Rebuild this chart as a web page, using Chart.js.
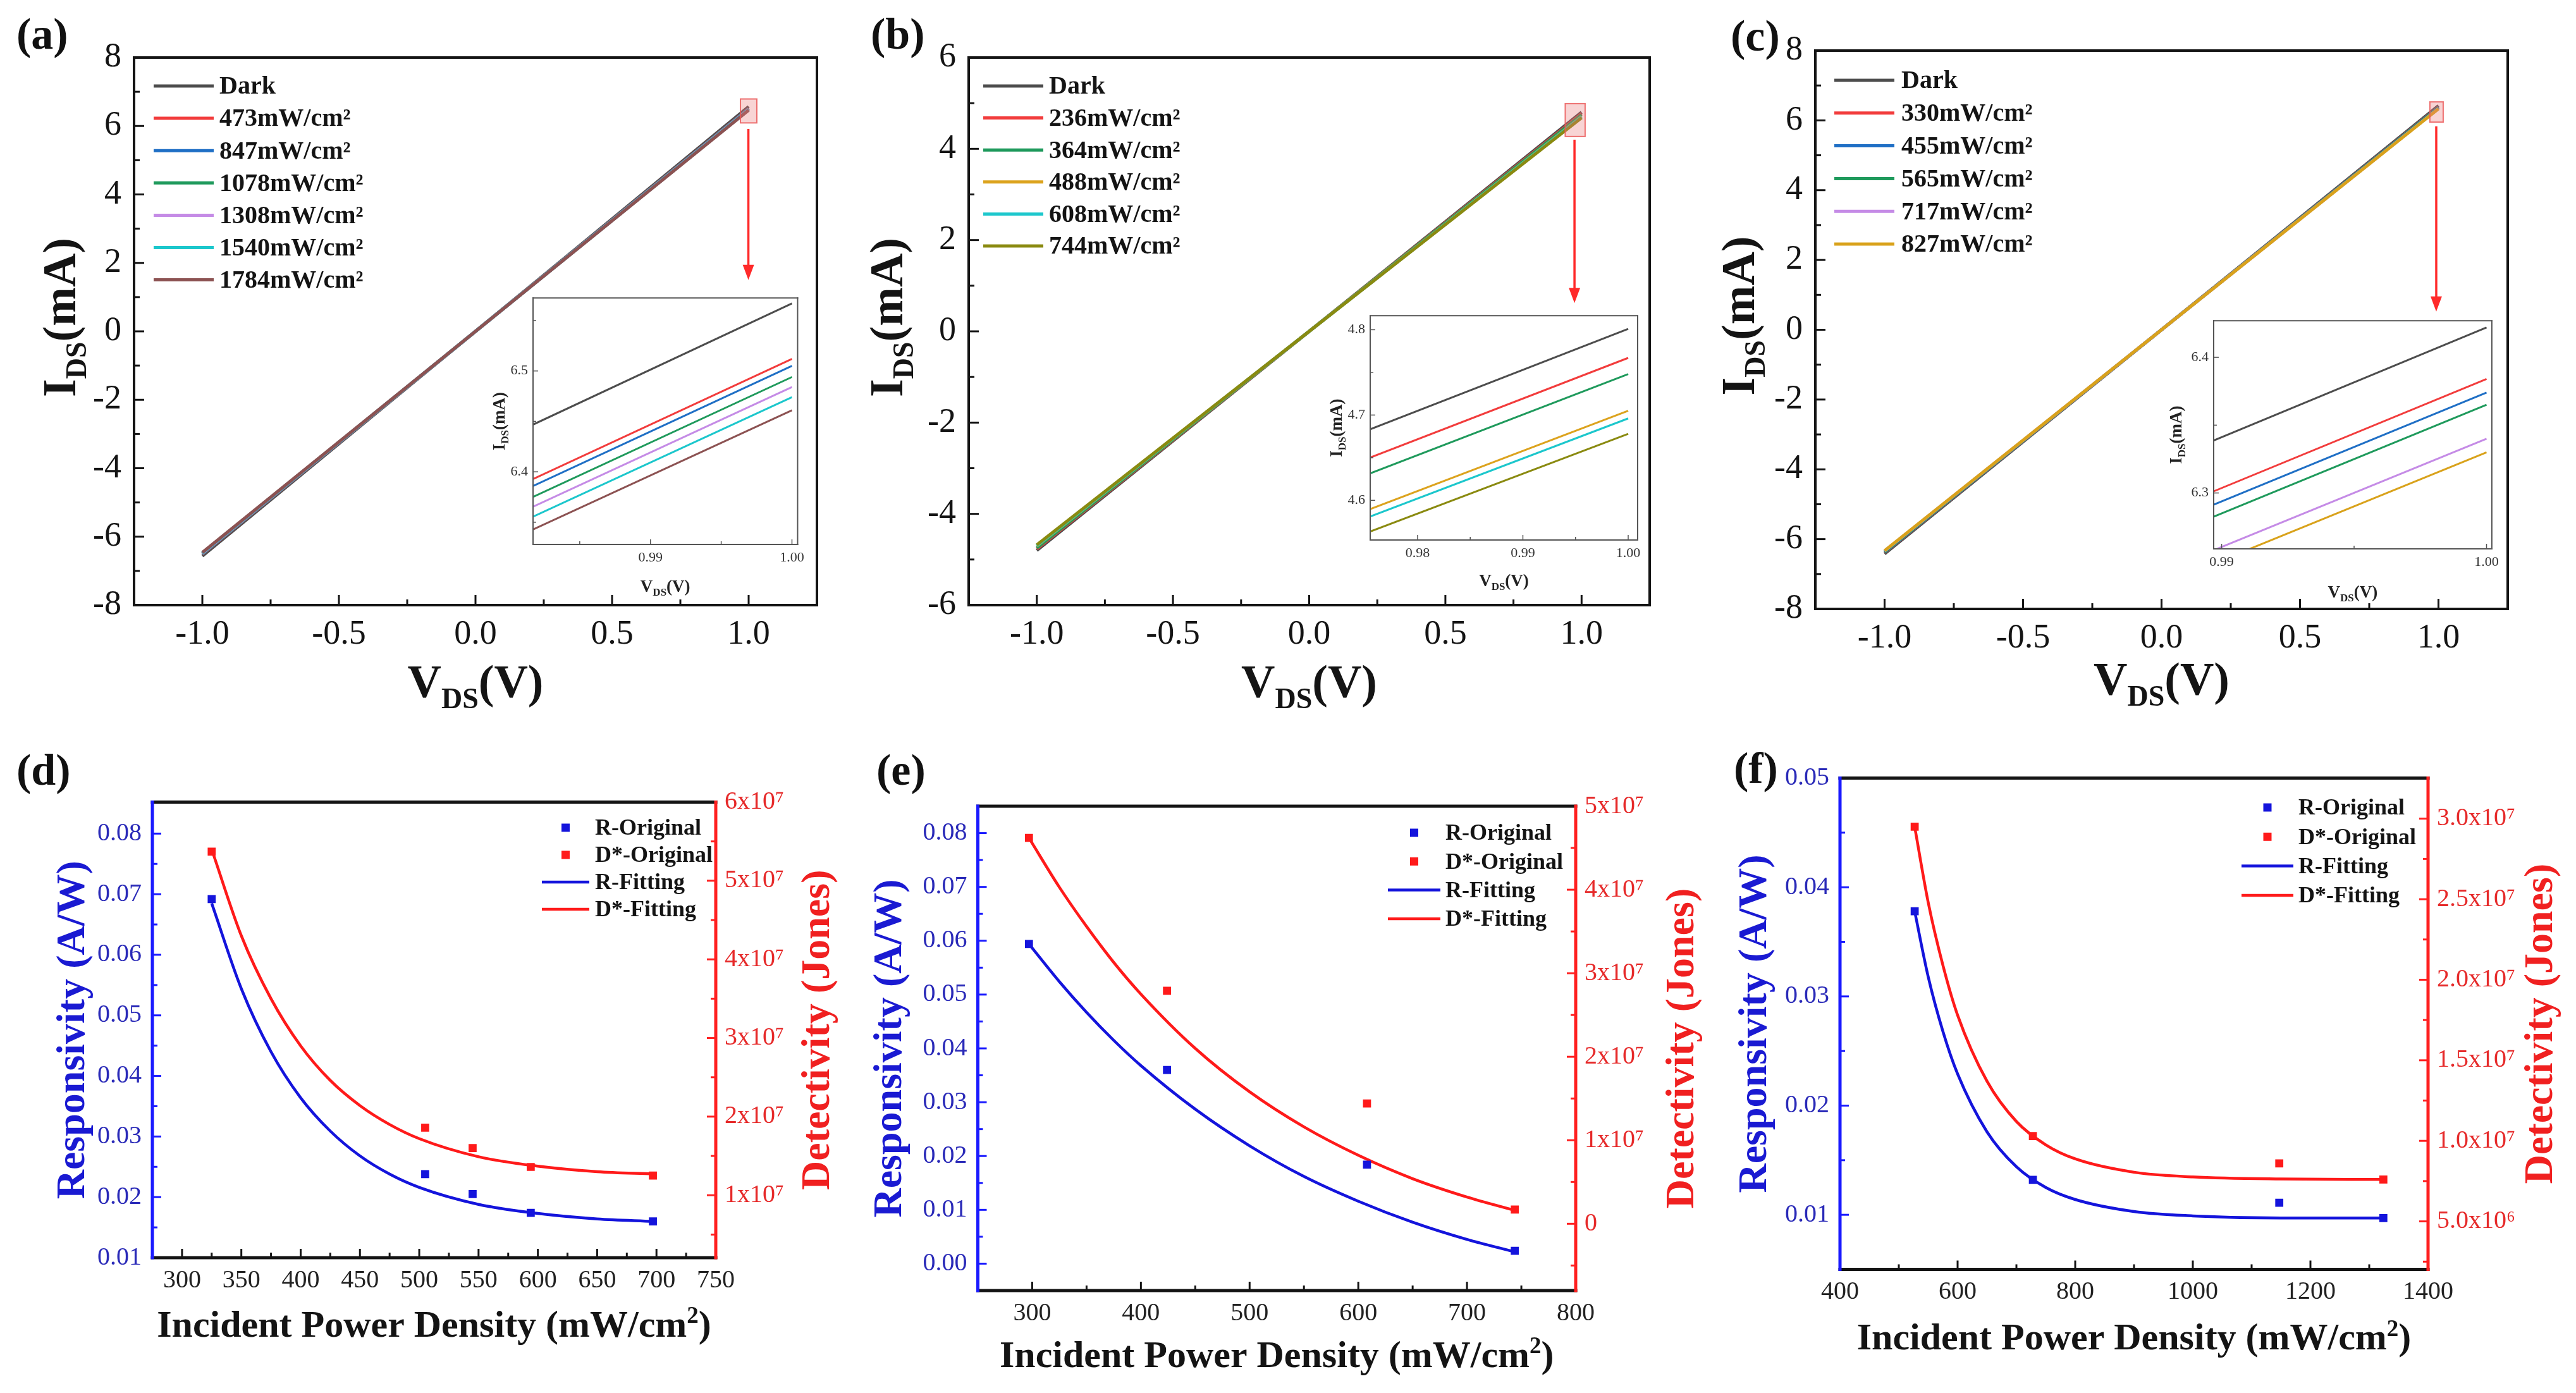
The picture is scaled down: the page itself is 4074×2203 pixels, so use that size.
<!DOCTYPE html>
<html>
<head>
<meta charset="utf-8">
<title>I-V curves and photoresponse</title>
<script src="https://cdn.jsdelivr.net/npm/chart.js@4.4.1/dist/chart.umd.min.js"></script>
<style>
  html, body { margin: 0; padding: 0; background: #fff; }
  #page { position: relative; width: 4074px; height: 2203px; overflow: hidden; background: #fff; }
  canvas { position: absolute; }
  .panel-label { position: absolute; font: bold 70px 'Liberation Serif', 'Times New Roman', serif; line-height: 70px; color: #111; }
</style>
</head>
<body>
<div id="page">
  <canvas id="chartA" width="1340" height="1120" style="left:0px;top:0px"></canvas>
  <canvas id="chartB" width="1360" height="1120" style="left:1360px;top:0px"></canvas>
  <canvas id="chartC" width="1354" height="1120" style="left:2720px;top:0px"></canvas>
  <canvas id="insetA" width="520" height="510" style="left:760px;top:450px"></canvas>
  <canvas id="insetB" width="520" height="470" style="left:2085px;top:478px"></canvas>
  <canvas id="insetC" width="540" height="470" style="left:3420px;top:486px"></canvas>
  <canvas id="chartD" width="1340" height="1083" style="left:0px;top:1120px"></canvas>
  <canvas id="chartE" width="1360" height="1083" style="left:1360px;top:1120px"></canvas>
  <canvas id="chartF" width="1354" height="1083" style="left:2720px;top:1120px"></canvas>
  <div class="panel-label" style="left:26px;top:19px">(a)</div>
  <div class="panel-label" style="left:1377px;top:19px">(b)</div>
  <div class="panel-label" style="left:2737px;top:22px">(c)</div>
  <div class="panel-label" style="left:26px;top:1183px">(d)</div>
  <div class="panel-label" style="left:1386px;top:1183px">(e)</div>
  <div class="panel-label" style="left:2742px;top:1180px">(f)</div>
</div>
<script>
// ---- data ----
// I-V sweeps: current (mA) at V_DS = -1, 0, 1 V
const ivVoltage = [-1.0, 0.0, 1.0];
const ivTicksX = [-1.0, -0.5, 0.0, 0.5, 1.0];
const ivMinorX = [-0.75, -0.25, 0.25, 0.75];

const aLabels = ['Dark', '473mW/cm²', '847mW/cm²', '1078mW/cm²', '1308mW/cm²', '1540mW/cm²', '1784mW/cm²'];
const aDark = [-6.567, 0, 6.567];
const a473 = [-6.512, 0, 6.512];
const a847 = [-6.505, 0, 6.505];
const a1078 = [-6.494, 0, 6.494];
const a1308 = [-6.484, 0, 6.484];
const a1540 = [-6.474, 0, 6.474];
const a1784 = [-6.461, 0, 6.461];
const aTicksY = [-8, -6, -4, -2, 0, 2, 4, 6, 8];
const aMinorY = [-7, -5, -3, -1, 1, 3, 5, 7];
const aInsetTicksX = [0.99, 1.00];
const aInsetMinorX = [0.985, 0.995];
const aInsetTicksY = [6.4, 6.5];
const aInsetMinorY = [6.35, 6.45, 6.55];

const bLabels = ['Dark', '236mW/cm²', '364mW/cm²', '488mW/cm²', '608mW/cm²', '744mW/cm²'];
const bDark = [-4.801, 0, 4.801];
const b236 = [-4.767, 0, 4.767];
const b364 = [-4.748, 0, 4.748];
const b488 = [-4.705, 0, 4.705];
const b608 = [-4.696, 0, 4.696];
const b744 = [-4.678, 0, 4.678];
const bTicksY = [-6, -4, -2, 0, 2, 4, 6];
const bMinorY = [-5, -3, -1, 1, 3, 5];
const bInsetTicksX = [0.98, 0.99, 1.00];
const bInsetMinorX = [0.985, 0.995];
const bInsetTicksY = [4.6, 4.7, 4.8];
const bInsetMinorY = [4.65, 4.75];

const cLabels = ['Dark', '330mW/cm²', '455mW/cm²', '565mW/cm²', '717mW/cm²', '827mW/cm²'];
const cDark = [-6.422, 0, 6.422];
const c330 = [-6.384, 0, 6.384];
const c455 = [-6.374, 0, 6.374];
const c565 = [-6.365, 0, 6.365];
const c717 = [-6.340, 0, 6.340];
const c827 = [-6.330, 0, 6.330];
const cTicksY = [-8, -6, -4, -2, 0, 2, 4, 6, 8];
const cMinorY = [-7, -5, -3, -1, 1, 3, 5, 7];
const cInsetTicksX = [0.99, 1.00];
const cInsetMinorX = [0.995];
const cInsetTicksY = [6.3, 6.4];
const cInsetMinorY = [6.35];

// responsivity (A/W) and detectivity (Jones) versus incident power density (mW/cm2)
const dPower = [325, 505, 545, 594, 697];
const dResp = [0.0692, 0.0238, 0.0205, 0.0174, 0.0160];
const dDet = [5.37e7, 1.86e7, 1.60e7, 1.36e7, 1.25e7];
const dFitPower = [325, 350, 375, 400, 425, 450, 475, 500, 550, 600, 650, 697];
const dFitResp = [0.0685, 0.0544, 0.0440, 0.0364, 0.0309, 0.0268, 0.0238, 0.0216, 0.0188, 0.0173, 0.0164, 0.0160];
const dFitDet = [5.40e7, 4.30e7, 3.50e7, 2.90e7, 2.46e7, 2.14e7, 1.90e7, 1.72e7, 1.49e7, 1.37e7, 1.30e7, 1.27e7];
const dTicksX = [300, 350, 400, 450, 500, 550, 600, 650, 700, 750];
const dMinorX = [325, 375, 425, 475, 525, 575, 625, 675, 725];
const dTicksR = [0.01, 0.02, 0.03, 0.04, 0.05, 0.06, 0.07, 0.08];
const dMinorR = [0.015, 0.025, 0.035, 0.045, 0.055, 0.065, 0.075];
const dTicksD = [1e7, 2e7, 3e7, 4e7, 5e7, 6e7];
const dMinorD = [5e6, 1.5e7, 2.5e7, 3.5e7, 4.5e7, 5.5e7];

const ePower = [297, 424, 608, 744];
const eResp = [0.0594, 0.0360, 0.0184, 0.0024];
const eDet = [4.62e7, 2.79e7, 1.44e7, 0.17e7];
const eFitPower = [297, 325, 350, 375, 400, 450, 500, 550, 600, 650, 700, 744];
const eFitResp = [0.0594, 0.0524, 0.0467, 0.0415, 0.0368, 0.0287, 0.0219, 0.0162, 0.0116, 0.0077, 0.0045, 0.0022];
const eFitDet = [4.62e7, 4.03e7, 3.56e7, 3.13e7, 2.75e7, 2.10e7, 1.58e7, 1.16e7, 0.82e7, 0.54e7, 0.32e7, 0.16e7];
const eTicksX = [300, 400, 500, 600, 700, 800];
const eMinorX = [350, 450, 550, 650, 750];
const eTicksR = [0.00, 0.01, 0.02, 0.03, 0.04, 0.05, 0.06, 0.07, 0.08];
const eMinorR = [0.005, 0.015, 0.025, 0.035, 0.045, 0.055, 0.065, 0.075];
const eTicksD = [0, 1e7, 2e7, 3e7, 4e7, 5e7];
const eMinorD = [-5e6, 5e6, 1.5e7, 2.5e7, 3.5e7, 4.5e7];

const fPower = [527, 728, 1147, 1324];
const fResp = [0.0378, 0.0132, 0.0111, 0.0097];
const fDet = [2.95e7, 1.03e7, 0.86e7, 0.76e7];
const fFitPower = [527, 550, 575, 600, 650, 700, 750, 800, 900, 1000, 1150, 1324];
const fFitResp = [0.0378, 0.0318, 0.0268, 0.0229, 0.0176, 0.0144, 0.0125, 0.0114, 0.0103, 0.0099, 0.0097, 0.0097];
const fFitDet = [2.95e7, 2.48e7, 2.09e7, 1.78e7, 1.37e7, 1.12e7, 0.975e7, 0.888e7, 0.805e7, 0.776e7, 0.763e7, 0.760e7];
const fTicksX = [400, 600, 800, 1000, 1200, 1400];
const fMinorX = [500, 700, 900, 1100, 1300];
const fTicksR = [0.01, 0.02, 0.03, 0.04, 0.05];
const fMinorR = [0.015, 0.025, 0.035, 0.045];
const fTicksD = [5e6, 1e7, 1.5e7, 2e7, 2.5e7, 3e7];
const fMinorD = [2.5e6, 7.5e6, 1.25e7, 1.75e7, 2.25e7, 2.75e7];

// ---- styles ----
const INK = '#141414';
const GRAY = '#555555';
const BLUE = '#1414dc';
const RED = '#ff1a1a';
const AXIS_BLUE = '#1a1aff';
const AXIS_RED = '#ff2020';
const aColors = ['#4d4d4d', '#f23c3c', '#1f6fc5', '#1f9a5c', '#c58be6', '#1cc7cc', '#8c5252'];
const bColors = ['#4d4d4d', '#f23c3c', '#1f9a5c', '#dca31e', '#1cc7cc', '#8a8a10'];
const cColors = ['#4d4d4d', '#f23c3c', '#1f6fc5', '#1f9a5c', '#c58be6', '#d9a21b'];

const SERIF = "'Liberation Serif', 'Times New Roman', serif";
Chart.defaults.font.family = SERIF;
Chart.defaults.color = INK;

// per-canvas decoration settings (kept outside Chart options so the resolver leaves them alone)
const decor = {};

// ---- plugins ----
function drawRich(ctx, parts, cx, cy, rot, size, color) {
  ctx.save();
  ctx.translate(cx, cy);
  ctx.rotate(rot);
  ctx.fillStyle = color;
  ctx.textAlign = 'left';
  ctx.textBaseline = 'alphabetic';
  const fontFor = k => 'bold ' + (k === 'n' ? size : Math.round(size * 0.62)) + 'px ' + SERIF;
  let total = 0;
  parts.forEach(p => { ctx.font = fontFor(p[1]); total += ctx.measureText(p[0]).width; });
  let x = -total / 2;
  const base = size * 0.33;
  parts.forEach(p => {
    ctx.font = fontFor(p[1]);
    const dy = p[1] === 'sub' ? size * 0.22 : (p[1] === 'sup' ? -size * 0.36 : 0);
    ctx.fillText(p[0], x, base + dy);
    x += ctx.measureText(p[0]).width;
  });
  ctx.restore();
}

const richTitles = {
  id: 'richTitles',
  afterDraw(chart) {
    const d = decor[chart.canvas.id];
    if (!d || !d.titles) return;
    const a = chart.chartArea;
    d.titles.forEach(it => {
      let cx, cy, rot = 0;
      const shift = it.shift || 0;
      if (it.side === 'bottom') {
        cx = (a.left + a.right) / 2 + shift; cy = a.bottom + it.offset;
      } else if (it.side === 'left') {
        cx = a.left - it.offset; cy = (a.top + a.bottom) / 2 + shift; rot = -Math.PI / 2;
      } else {
        cx = a.right + it.offset; cy = (a.top + a.bottom) / 2 + shift; rot = -Math.PI / 2;
      }
      drawRich(chart.ctx, it.parts, cx, cy, rot, it.size, it.color);
    });
  }
};

const originFrame = {
  id: 'originFrame',
  beforeDatasetsDraw(chart) {
    const d = decor[chart.canvas.id];
    if (!d || !d.frame || !d.frame.fill) return;
    const a = chart.chartArea, ctx = chart.ctx;
    ctx.save();
    ctx.fillStyle = d.frame.fill;
    ctx.fillRect(a.left, a.top, a.right - a.left, a.bottom - a.top);
    ctx.restore();
  },
  afterDatasetsDraw(chart) {
    const d = decor[chart.canvas.id];
    if (!d || !d.frame) return;
    const o = d.frame;
    const ctx = chart.ctx, a = chart.chartArea;
    ctx.save();
    o.marks.forEach(m => {
      const s = chart.scales[m.scale];
      ctx.strokeStyle = m.color;
      ctx.lineWidth = o.tickWidth;
      const tick = (v, len) => {
        const p = s.getPixelForValue(v);
        ctx.beginPath();
        if (m.side === 'bottom') { ctx.moveTo(p, a.bottom); ctx.lineTo(p, a.bottom - len); }
        else if (m.side === 'left') { ctx.moveTo(a.left, p); ctx.lineTo(a.left + len, p); }
        else { ctx.moveTo(a.right, p); ctx.lineTo(a.right - len, p); }
        ctx.stroke();
      };
      m.major.forEach(v => tick(v, o.majorLen));
      m.minor.forEach(v => tick(v, o.minorLen));
    });
    const e = o.edges;
    ctx.lineWidth = o.lineWidth;
    ctx.lineCap = 'square';
    const seg = (x1, y1, x2, y2, c) => {
      ctx.strokeStyle = c; ctx.beginPath(); ctx.moveTo(x1, y1); ctx.lineTo(x2, y2); ctx.stroke();
    };
    seg(a.left, a.top, a.right, a.top, e[0]);
    seg(a.left, a.bottom, a.right, a.bottom, e[2]);
    seg(a.right, a.top, a.right, a.bottom, e[1]);
    seg(a.left, a.top, a.left, a.bottom, e[3]);
    ctx.restore();
  }
};

const panelLegend = {
  id: 'panelLegend',
  afterDraw(chart) {
    const d = decor[chart.canvas.id];
    if (!d || !d.legend) return;
    const o = d.legend, ctx = chart.ctx;
    ctx.save();
    ctx.font = 'bold ' + o.size + 'px ' + SERIF;
    ctx.textBaseline = 'middle';
    ctx.textAlign = 'left';
    chart.data.datasets.forEach((ds, i) => {
      const y = o.y0 + i * o.rowH;
      if (ds.legendKind === 'square') {
        const m = (o.lineX0 + o.lineX1) / 2;
        ctx.fillStyle = ds.backgroundColor;
        ctx.fillRect(m - o.mark / 2, y - o.mark / 2, o.mark, o.mark);
      } else {
        ctx.strokeStyle = ds.borderColor;
        ctx.lineWidth = o.lineW;
        ctx.beginPath(); ctx.moveTo(o.lineX0, y); ctx.lineTo(o.lineX1, y); ctx.stroke();
      }
      ctx.fillStyle = INK;
      ctx.fillText(ds.label, o.textX, y + 2);
    });
    ctx.restore();
  }
};

const zoomMark = {
  id: 'zoomMark',
  afterDatasetsDraw(chart) {
    const d = decor[chart.canvas.id];
    if (!d || !d.mark) return;
    const o = d.mark;
    const xs = chart.scales.x, ys = chart.scales.y, ctx = chart.ctx;
    const x0 = xs.getPixelForValue(o.rect[0]), x1 = xs.getPixelForValue(o.rect[1]);
    const y0 = ys.getPixelForValue(o.rect[3]), y1 = ys.getPixelForValue(o.rect[2]);
    ctx.save();
    ctx.fillStyle = 'rgba(232, 120, 120, 0.32)';
    ctx.fillRect(x0, y0, x1 - x0, y1 - y0);
    ctx.strokeStyle = 'rgba(235, 90, 90, 0.85)';
    ctx.lineWidth = 2;
    ctx.strokeRect(x0, y0, x1 - x0, y1 - y0);
    const ax = xs.getPixelForValue(o.arrow[0]);
    const ay0 = ys.getPixelForValue(o.arrow[1]), ay1 = ys.getPixelForValue(o.arrow[2]);
    ctx.strokeStyle = '#ff2a2a';
    ctx.fillStyle = '#ff2a2a';
    ctx.lineWidth = 3.5;
    ctx.beginPath(); ctx.moveTo(ax, ay0); ctx.lineTo(ax, ay1 - 18); ctx.stroke();
    ctx.beginPath(); ctx.moveTo(ax - 9, ay1 - 24); ctx.lineTo(ax + 9, ay1 - 24); ctx.lineTo(ax, ay1); ctx.closePath(); ctx.fill();
    ctx.restore();
  }
};

Chart.register(originFrame, zoomMark, richTitles, panelLegend);

// ---- helpers ----
function lin(pos, min, max, ticks, size, o) {
  return {
    type: 'linear', position: pos, min: min, max: max,
    grid: { display: false, drawTicks: false },
    border: { display: false },
    afterBuildTicks: s => { s.ticks = ticks.map(v => ({ value: v })); },
    afterFit: s => { if (pos === 'bottom') s.height = size; else s.width = size; },
    ticks: {
      autoSkip: false, maxRotation: 0, minRotation: 0, padding: o.pad,
      color: o.color || INK, font: { size: o.font }, callback: o.fmt
    }
  };
}

function sciLabel(digits) {
  const sup = { '0': '⁰', '1': '¹', '2': '²', '3': '³', '4': '⁴', '5': '⁵', '6': '⁶', '7': '⁷', '8': '⁸', '9': '⁹', '-': '⁻' };
  return v => {
    if (v === 0) return '0';
    const e = Math.floor(Math.log10(Math.abs(v)) + 1e-9);
    const m = v / Math.pow(10, e);
    return m.toFixed(digits) + 'x10' + String(e).split('').map(c => sup[c]).join('');
  };
}

function ivDatasets(labels, series, colors, width) {
  return series.map((s, i) => ({
    label: labels[i],
    data: ivVoltage.map((v, k) => ({ x: v, y: s[k] })),
    showLine: true, pointRadius: 0, borderWidth: width,
    borderColor: colors[i], backgroundColor: colors[i],
    order: -i, legendKind: 'line', clip: 0
  }));
}

const vTitle = [['V', 'n'], ['DS', 'sub'], ['(V)', 'n']];
const iTitle = [['I', 'n'], ['DS', 'sub'], ['(mA)', 'n']];
const baseOptions = { responsive: false, animation: false, events: [], devicePixelRatio: 1 };
const quietPlugins = { legend: { display: false }, tooltip: { enabled: false } };

function ivMain(id, p) {
  decor[id] = {
    frame: {
      edges: [INK, INK, INK, INK], lineWidth: 4, tickWidth: 3, majorLen: 16, minorLen: 9,
      marks: [
        { scale: 'x', side: 'bottom', color: INK, major: ivTicksX, minor: ivMinorX },
        { scale: 'y', side: 'left', color: INK, major: p.yTicks, minor: p.yMinor }
      ]
    },
    titles: [
      { side: 'bottom', offset: p.xTitle, shift: 0, size: 74, color: INK, parts: vTitle },
      { side: 'left', offset: p.yTitle, shift: -22, size: 74, color: INK, parts: iTitle }
    ],
    legend: { y0: p.legY, rowH: p.legRow, lineX0: p.legX0, lineX1: p.legX1, textX: p.legText, size: 40, lineW: 5, mark: 0 },
    mark: { rect: p.rect, arrow: p.arrow }
  };
  return new Chart(document.getElementById(id), {
    type: 'scatter',
    data: { datasets: ivDatasets(p.labels, p.series, p.colors, 5) },
    options: Object.assign({}, baseOptions, {
      layout: { padding: { left: 0, top: p.top, right: p.right, bottom: 0 } },
      scales: {
        x: lin('bottom', -1.25, 1.25, ivTicksX, p.xH, { pad: 14, font: 54, fmt: v => v.toFixed(1) }),
        y: lin('left', p.yMin, p.yMax, p.yTicks, p.yW, { pad: 20, font: 54, fmt: v => String(v) })
      },
      plugins: quietPlugins
    })
  });
}

function ivInset(id, p) {
  decor[id] = {
    frame: {
      fill: '#ffffff', edges: [GRAY, GRAY, GRAY, GRAY], lineWidth: 2, tickWidth: 1.5, majorLen: 8, minorLen: 5,
      marks: [
        { scale: 'x', side: 'bottom', color: GRAY, major: p.xTicks, minor: p.xMinor },
        { scale: 'y', side: 'left', color: GRAY, major: p.yTicks, minor: p.yMinor }
      ]
    },
    titles: [
      { side: 'bottom', offset: p.xTitle, shift: 0, size: 27, color: '#222', parts: vTitle },
      { side: 'left', offset: p.yTitle, shift: 0, size: 27, color: '#222', parts: iTitle }
    ]
  };
  return new Chart(document.getElementById(id), {
    type: 'scatter',
    data: { datasets: ivDatasets(p.labels, p.series, p.colors, 3) },
    options: Object.assign({}, baseOptions, {
      layout: { padding: { left: 0, top: p.top, right: p.right, bottom: 0 } },
      scales: {
        x: lin('bottom', p.xMin, p.xMax, p.xTicks, p.xH, { pad: 8, font: 22, color: '#333', fmt: v => v.toFixed(2) }),
        y: lin('left', p.yMin, p.yMax, p.yTicks, p.yW, { pad: 8, font: 22, color: '#333', fmt: v => v.toFixed(1) })
      },
      plugins: quietPlugins
    })
  });
}

function powerChart(id, p) {
  decor[id] = {
    frame: {
      edges: [INK, AXIS_RED, INK, AXIS_BLUE], lineWidth: 5, tickWidth: 3, majorLen: 14, minorLen: 8,
      marks: [
        { scale: 'x', side: 'bottom', color: INK, major: p.xTicks, minor: p.xMinor },
        { scale: 'yR', side: 'left', color: AXIS_BLUE, major: p.rTicks, minor: p.rMinor },
        { scale: 'yD', side: 'right', color: AXIS_RED, major: p.dTicks, minor: p.dMinor }
      ]
    },
    titles: [
      { side: 'bottom', offset: p.xTitle, shift: 0, size: 60, color: INK,
        parts: [['Incident Power Density (mW/cm', 'n'], ['2', 'sup'], [')', 'n']] },
      { side: 'left', offset: p.rTitle, shift: 0, size: 64, color: '#1a1ad2', parts: [['Responsivity (A/W)', 'n']] },
      { side: 'right', offset: p.dTitle, shift: 0, size: 64, color: '#f02020', parts: [['Detectivity (Jones)', 'n']] }
    ],
    legend: { y0: p.legY, rowH: p.legRow, lineX0: p.legX0, lineX1: p.legX1, textX: p.legText, size: 36, lineW: 4.5, mark: 13 }
  };
  const pts = (xs, ys) => xs.map((x, i) => ({ x: x, y: ys[i] }));
  return new Chart(document.getElementById(id), {
    type: 'scatter',
    data: { datasets: [
      { label: 'R-Original', data: pts(p.power, p.resp), yAxisID: 'yR', pointStyle: 'rect', pointRadius: 9,
        borderWidth: 0, backgroundColor: BLUE, borderColor: BLUE, legendKind: 'square' },
      { label: 'D*-Original', data: pts(p.power, p.det), yAxisID: 'yD', pointStyle: 'rect', pointRadius: 9,
        borderWidth: 0, backgroundColor: RED, borderColor: RED, legendKind: 'square' },
      { label: 'R-Fitting', data: pts(p.fitPower, p.fitResp), yAxisID: 'yR', showLine: true, pointRadius: 0,
        borderWidth: 4.5, borderColor: BLUE, backgroundColor: BLUE, cubicInterpolationMode: 'monotone', legendKind: 'line' },
      { label: 'D*-Fitting', data: pts(p.fitPower, p.fitDet), yAxisID: 'yD', showLine: true, pointRadius: 0,
        borderWidth: 4.5, borderColor: RED, backgroundColor: RED, cubicInterpolationMode: 'monotone', legendKind: 'line' }
    ] },
    options: Object.assign({}, baseOptions, {
      layout: { padding: { left: 0, top: p.top, right: 0, bottom: 0 } },
      scales: {
        x: lin('bottom', p.xMin, p.xMax, p.xTicks, p.xH, { pad: 12, font: 40, color: '#222', fmt: v => String(v) }),
        yR: lin('left', p.rMin, p.rMax, p.rTicks, p.rW, { pad: 17, font: 40, color: '#2a2ab8', fmt: v => v.toFixed(2) }),
        yD: lin('right', p.dMin, p.dMax, p.dTicks, p.dW, { pad: 14, font: 40, color: '#e62a2a', fmt: sciLabel(p.digits) })
      },
      plugins: quietPlugins
    })
  });
}

// ---- top row: I-V curves ----
ivMain('chartA', {
  labels: aLabels, series: [aDark, a473, a847, a1078, a1308, a1540, a1784], colors: aColors,
  top: 91, right: 48, xH: 163, yW: 212, yMin: -8, yMax: 8, yTicks: aTicksY, yMinor: aMinorY,
  xTitle: 122, yTitle: 117,
  legY: 136, legRow: 51.1, legX0: 243, legX1: 338, legText: 347,
  rect: [0.97, 1.03, 6.09, 6.79], arrow: [0.999, 5.91, 1.50]
});
ivMain('chartB', {
  labels: bLabels, series: [bDark, b236, b364, b488, b608, b744], colors: bColors,
  top: 91, right: 111, xH: 163, yW: 172, yMin: -6, yMax: 6, yTicks: bTicksY, yMinor: bMinorY,
  xTitle: 122, yTitle: 129,
  legY: 136, legRow: 50.6, legX0: 195, legX1: 290, legText: 299,
  rect: [0.94, 1.013, 4.27, 4.99], arrow: [0.974, 4.2, 0.62]
});
ivMain('chartC', {
  labels: cLabels, series: [cDark, c330, c455, c565, c717, c827], colors: cColors,
  top: 80, right: 108, xH: 157, yW: 151, yMin: -8, yMax: 8, yTicks: cTicksY, yMinor: cMinorY,
  xTitle: 112, yTitle: 121,
  legY: 127, legRow: 51.8, legX0: 181, legX1: 276, legText: 287,
  rect: [0.969, 1.017, 5.95, 6.53], arrow: [0.992, 5.83, 0.52]
});

ivInset('insetA', {
  labels: aLabels, series: [aDark, a473, a847, a1078, a1308, a1540, a1784], colors: aColors,
  top: 13, right: 12, xH: 99, yW: 83,
  xMin: 0.9817, xMax: 1.0004, xTicks: aInsetTicksX, xMinor: aInsetMinorX,
  yMin: 6.328, yMax: 6.5724, yTicks: aInsetTicksY, yMinor: aInsetMinorY,
  xTitle: 66, yTitle: 54
});
ivInset('insetB', {
  labels: bLabels, series: [bDark, b236, b364, b488, b608, b744], colors: bColors,
  top: 12, right: 15, xH: 94, yW: 82,
  xMin: 0.9755, xMax: 1.0009, xTicks: bInsetTicksX, xMinor: bInsetMinorX,
  yMin: 4.5535, yMax: 4.8165, yTicks: bInsetTicksY, yMinor: bInsetMinorY,
  xTitle: 64, yTitle: 54
});
ivInset('insetC', {
  labels: cLabels, series: [cDark, c330, c455, c565, c717, c827], colors: cColors,
  top: 12, right: 12, xH: 88, yW: 81,
  xMin: 0.9897, xMax: 1.0002, xTicks: cInsetTicksX, xMinor: cInsetMinorX,
  yMin: 6.2588, yMax: 6.427, yTicks: cInsetTicksY, yMinor: cInsetMinorY,
  xTitle: 68, yTitle: 60
});

// ---- bottom row: responsivity / detectivity ----
powerChart('chartD', {
  power: dPower, resp: dResp, det: dDet, fitPower: dFitPower, fitResp: dFitResp, fitDet: dFitDet,
  top: 148.5, xH: 214, rW: 241, dW: 208,
  xMin: 275, xMax: 750, xTicks: dTicksX, xMinor: dMinorX,
  rMin: 0.01, rMax: 0.0852, rTicks: dTicksR, rMinor: dMinorR,
  dMin: 2.06e6, dMax: 6e7, dTicks: dTicksD, dMinor: dMinorD, digits: 0,
  xTitle: 105, rTitle: 129, dTitle: 158,
  legY: 189, legRow: 43, legX0: 857, legX1: 932, legText: 941
});
powerChart('chartE', {
  power: ePower, resp: eResp, det: eDet, fitPower: eFitPower, fitResp: eFitResp, fitDet: eFitDet,
  top: 155, xH: 162, rW: 186.5, dW: 228,
  xMin: 250, xMax: 800, xTicks: eTicksX, xMinor: eMinorX,
  rMin: -0.005, rMax: 0.085, rTicks: eTicksR, rMinor: eMinorR,
  dMin: -8e6, dMax: 5e7, dTicks: eTicksD, dMinor: eMinorD, digits: 0,
  xTitle: 101, rTitle: 143, dTitle: 165,
  legY: 197, legRow: 45.3, legX0: 835, legX1: 918, legText: 926
});
powerChart('chartF', {
  power: fPower, resp: fResp, det: fDet, fitPower: fFitPower, fitResp: fFitResp, fitDet: fFitDet,
  top: 110.5, xH: 195.5, rW: 190, dW: 234,
  xMin: 400, xMax: 1400, xTicks: fTicksX, xMinor: fMinorX,
  rMin: 0.005, rMax: 0.05, rTicks: fTicksR, rMinor: fMinorR,
  dMin: 2.02e6, dMax: 3.252e7, dTicks: fTicksD, dMinor: fMinorD, digits: 1,
  xTitle: 107, rTitle: 138, dTitle: 175,
  legY: 157, legRow: 46.3, legX0: 825, legX1: 907, legText: 915
});
</script>
</body>
</html>
